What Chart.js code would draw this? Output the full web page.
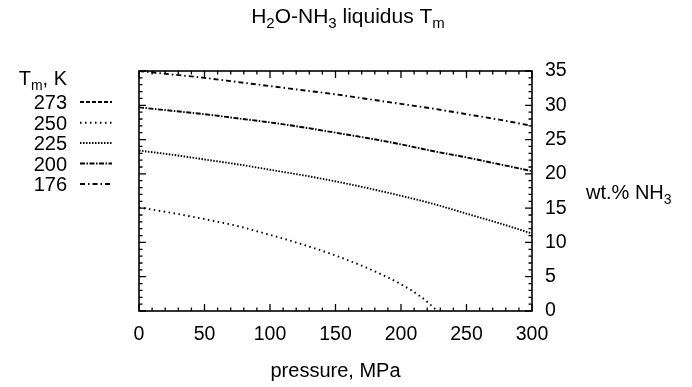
<!DOCTYPE html>
<html>
<head>
<meta charset="utf-8">
<script src="https://cdn.jsdelivr.net/npm/chart.js@4"></script>
<style>
  html, body { margin: 0; padding: 0; background: #fff; }
  #wrap { width: 692px; height: 387px; }
</style>
</head>
<body>
<div id="wrap"><canvas id="myChart" width="692" height="387"></canvas></div>
<script>
// liquidus curves, wt.% NH3 vs pressure (MPa)
const pressure = [0, 25, 50, 75, 100, 125, 150, 175, 200, 225, 250, 275, 300];
const wt176 = [35.0, 34.5, 34.0, 33.4, 32.8, 32.2, 31.6, 30.9, 30.2, 29.5, 28.7, 27.9, 27.0];
const wt200 = [29.7, 29.2, 28.7, 28.1, 27.5, 26.8, 26.0, 25.2, 24.3, 23.3, 22.4, 21.4, 20.4];
const wt225 = [23.4, 22.8, 22.1, 21.4, 20.6, 19.8, 18.9, 17.9, 16.8, 15.6, 14.2, 12.8, 11.3];
const pressure250 = [0, 25, 50, 75, 100, 125, 150, 175, 200, 215, 228];
const wt250 = [15.1, 14.3, 13.4, 12.4, 11.1, 9.7, 8.1, 6.2, 3.9, 2.1, 0];
const pressure273 = [0];
const wt273 = [0];

const tempLabels = ["273", "250", "225", "200", "176"];
const xTicks = [0, 50, 100, 150, 200, 250, 300];
const yTicks = [0, 5, 10, 15, 20, 25, 30, 35];

const FONT = '"Liberation Sans", Arial, Helvetica, sans-serif';

function pts(xs, ys) {
  return xs.map((x, i) => ({ x: x, y: ys[i] }));
}

// draw text with [text, isSub] pieces
function richText(ctx, parts, x, y, align, size) {
  const subSize = Math.round(size * 0.7);
  let w = 0;
  for (const [t, sub] of parts) {
    ctx.font = (sub ? subSize : size) + "px " + FONT;
    w += ctx.measureText(t).width;
  }
  let cx = align === "right" ? x - w : align === "center" ? x - w / 2 : x;
  ctx.textAlign = "left";
  ctx.textBaseline = "alphabetic";
  for (const [t, sub] of parts) {
    ctx.font = (sub ? subSize : size) + "px " + FONT;
    ctx.fillText(t, cx, sub ? y + 5 : y);
    cx += ctx.measureText(t).width;
  }
}

const decorations = {
  id: "decorations",
  afterDraw(chart) {
    const ctx = chart.ctx;
    const a = chart.chartArea;
    const xs = chart.scales.x, ys = chart.scales.y;
    ctx.save();
    ctx.strokeStyle = "#000";
    ctx.fillStyle = "#000";
    ctx.lineWidth = 1.6;
    ctx.setLineDash([]);
    ctx.strokeRect(a.left, a.top, a.right - a.left, a.bottom - a.top);

    // inward ticks, all four sides
    ctx.lineWidth = 1.3;
    ctx.beginPath();
    for (let v = 0; v <= 300; v += 10) {
      const px = xs.getPixelForValue(v);
      const len = v % 50 === 0 ? 7 : 3.5;
      ctx.moveTo(px, a.bottom); ctx.lineTo(px, a.bottom - len);
      ctx.moveTo(px, a.top); ctx.lineTo(px, a.top + len);
    }
    for (let v = 0; v <= 35; v += 1) {
      const py = ys.getPixelForValue(v);
      const len = v % 5 === 0 ? 7 : 3.5;
      ctx.moveTo(a.left, py); ctx.lineTo(a.left + len, py);
      ctx.moveTo(a.right, py); ctx.lineTo(a.right - len, py);
    }
    ctx.stroke();

    // title and axis titles
    richText(ctx, [["H", 0], ["2", 1], ["O-NH", 0], ["3", 1], [" liquidus T", 0], ["m", 1]], 348, 23, "center", 21);
    richText(ctx, [["pressure, MPa", 0]], (a.left + a.right) / 2, 377, "center", 20);
    richText(ctx, [["wt.% NH", 0], ["3", 1]], 586, 199, "left", 20);

    // legend
    richText(ctx, [["T", 0], ["m", 1], [", K", 0]], 67, 85, "right", 20);
    const rowY = [102, 122.7, 143, 163.5, 184];
    const order = [4, 3, 2, 1, 0];
    rowY.forEach((yc, i) => {
      const ds = chart.data.datasets[order[i]];
      richText(ctx, [[tempLabels[i], 0]], 67, yc + 7, "right", 20);
      ctx.lineWidth = ds.borderWidth;
      ctx.setLineDash(ds.borderDash);
      ctx.beginPath();
      ctx.moveTo(80, yc);
      ctx.lineTo(112, yc);
      ctx.stroke();
    });
    ctx.restore();
  }
};

const common = { borderColor: "#000", borderWidth: 1.9, pointRadius: 0, fill: false, cubicInterpolationMode: "monotone" };

new Chart(document.getElementById("myChart"), {
  type: "line",
  data: {
    datasets: [
      Object.assign({ label: "176", data: pts(pressure, wt176), borderDash: [5, 3, 1.5, 3] }, common),
      Object.assign({ label: "200", data: pts(pressure, wt200), borderDash: [5, 1.5, 1.5, 1.5] }, common),
      Object.assign({ label: "225", data: pts(pressure, wt225), borderDash: [1.5, 1.5] }, common),
      Object.assign({ label: "250", data: pts(pressure250, wt250), borderDash: [1.5, 3.5] }, common),
      Object.assign({ label: "273", data: pts(pressure273, wt273), borderDash: [4, 2] }, common),
    ],
  },
  options: {
    responsive: false,
    animation: false,
    layout: { padding: { left: 139, top: 71, right: 0, bottom: 0 } },
    plugins: { legend: { display: false }, tooltip: { enabled: false }, title: { display: false } },
    scales: {
      x: {
        type: "linear",
        min: 0,
        max: 300,
        afterFit: (s) => { s.height = 76; },
        afterBuildTicks: (s) => { s.ticks = xTicks.map((v) => ({ value: v })); },
        grid: { display: false, drawTicks: false },
        border: { display: false },
        ticks: { color: "#000", padding: 12, maxRotation: 0, font: { family: FONT, size: 19.5 } },
      },
      y: {
        type: "linear",
        position: "right",
        min: 0,
        max: 35,
        afterFit: (s) => { s.width = 160; },
        afterBuildTicks: (s) => { s.ticks = yTicks.map((v) => ({ value: v })); },
        grid: { display: false, drawTicks: false },
        border: { display: false },
        ticks: { color: "#000", padding: 13, font: { family: FONT, size: 19.5 } },
      },
    },
  },
  plugins: [decorations],
});
</script>
</body>
</html>
